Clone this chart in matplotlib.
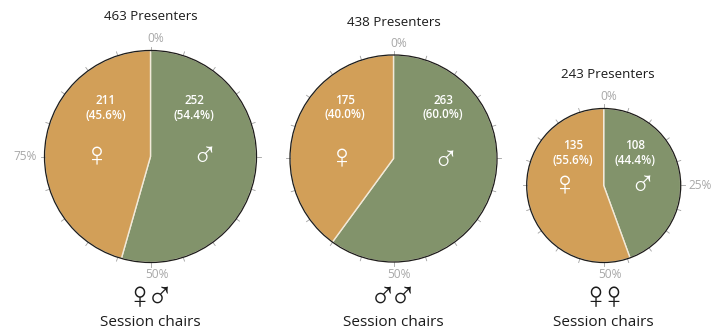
import numpy as np
import matplotlib
matplotlib.use('Agg')
import matplotlib.pyplot as plt

plt.rcParams['font.family'] = ['Open Sans', 'DejaVu Sans']

# Data
titles = ['463 Presenters', '438 Presenters', '243 Presenters']
male_counts = [252, 263, 108]
female_counts = [211, 175, 135]
male_pct = ['54.4%', '60.0%', '44.4%']
female_pct = ['45.6%', '40.0%', '55.6%']
chair_symbols = [['♀', '♂'], ['♂', '♂'], ['♀', '♀']]
pct_labels = [[0, 75, 50], [0, 50], [0, 25, 50]]

# Layout in pixels of the 714x333 picture: centre x, centre y, radius
centres = [(150.5, 156.5, 106), (393.5, 158.5, 103.5), (603.7, 185.5, 77)]
title_x = [150.5, 393.5, 608]
title_y = [17, 22, 75]
label_y = [101, 100, 145]
male_label_x = [194, 443, 635]
female_label_x = [106, 345, 573]
male_sym = [(204, 157), (445, 160), (642, 186)]
female_sym = [(97, 157), (342, 159), (565, 186)]
chair_x = [(139.5, 159.5), (383, 403), (595, 613.5)]
caption_x = [150.5, 393.5, 603]

W, H = 714, 333
GREEN = '#82936b'
ORANGE = '#d29f58'
GREY = '#a8a8a8'
DARK = '#1c1c1c'
SYMBOL_FONT = ['Liberation Sans', 'DejaVu Sans']

fig = plt.figure(figsize=(W / 100, H / 100), dpi=100)


def fig_text(x, y, s, **kw):
    fig.text(x / W, 1 - y / H, s, ha='center', va='center', **kw)


for i in range(3):
    cx, cy, r = centres[i]
    pad = 1.5
    ax = fig.add_axes([(cx - r * pad) / W, 1 - (cy + r * pad) / H,
                       2 * r * pad / W, 2 * r * pad / H])
    ax.pie([male_counts[i], female_counts[i]], colors=[GREEN, ORANGE], startangle=90,
           counterclock=False, radius=1,
           wedgeprops={'edgecolor': '#f2ead9', 'linewidth': 1.0})
    # black rim over the slices
    ax.add_patch(plt.Circle((0, 0), 1, fill=False, ec=DARK, lw=0.9, zorder=4))
    # ticks every 5%
    tick_len = 4 / r
    for pct in range(0, 100, 5):
        a = np.pi / 2 - 2 * np.pi * pct / 100
        ax.plot([np.cos(a), (1 + tick_len) * np.cos(a)],
                [np.sin(a), (1 + tick_len) * np.sin(a)], color='#a0a0a0', lw=0.6, zorder=3)
    ax.set_xlim(-pad, pad)
    ax.set_ylim(-pad, pad)
    ax.axis('off')

    fig_text(title_x[i], title_y[i], titles[i], fontsize=9.6, color=DARK)

    # percent labels round the rim
    for pct in pct_labels[i]:
        if pct == 0:
            fig_text(cx + 5, cy - r - 11.5, '0%', fontsize=8.6, color=GREY)
        elif pct == 50:
            fig_text(cx + 6, cy + r + 12, '50%', fontsize=8.6, color=GREY)
        elif pct == 25:
            fig_text(cx + r + 19, cy, '25%', fontsize=8.6, color=GREY)
        elif pct == 75:
            fig_text(cx - r - 19, cy, '75%', fontsize=8.6, color=GREY)

    # slice labels
    top = label_y[i]
    fig_text(male_label_x[i], top, str(male_counts[i]), fontsize=8.4, color='white', fontweight='semibold')
    fig_text(male_label_x[i], top + 15, '(%s)' % male_pct[i], fontsize=8.4, color='white', fontweight='semibold')
    fig_text(female_label_x[i], top, str(female_counts[i]), fontsize=8.4, color='white', fontweight='semibold')
    fig_text(female_label_x[i], top + 15, '(%s)' % female_pct[i], fontsize=8.4, color='white', fontweight='semibold')

    fig_text(male_sym[i][0], male_sym[i][1], '♂', fontsize=25, color='white', family=SYMBOL_FONT)
    fig_text(female_sym[i][0], female_sym[i][1], '♀', fontsize=25, color='white', family=SYMBOL_FONT)

    # chair symbols and caption
    for x, sym in zip(chair_x[i], chair_symbols[i]):
        fig_text(x, 298, sym, fontsize=27, color=DARK, family=SYMBOL_FONT)
    fig_text(caption_x[i], 322, 'Session chairs', fontsize=11, color=DARK)

fig.savefig('out.png', dpi=100)
